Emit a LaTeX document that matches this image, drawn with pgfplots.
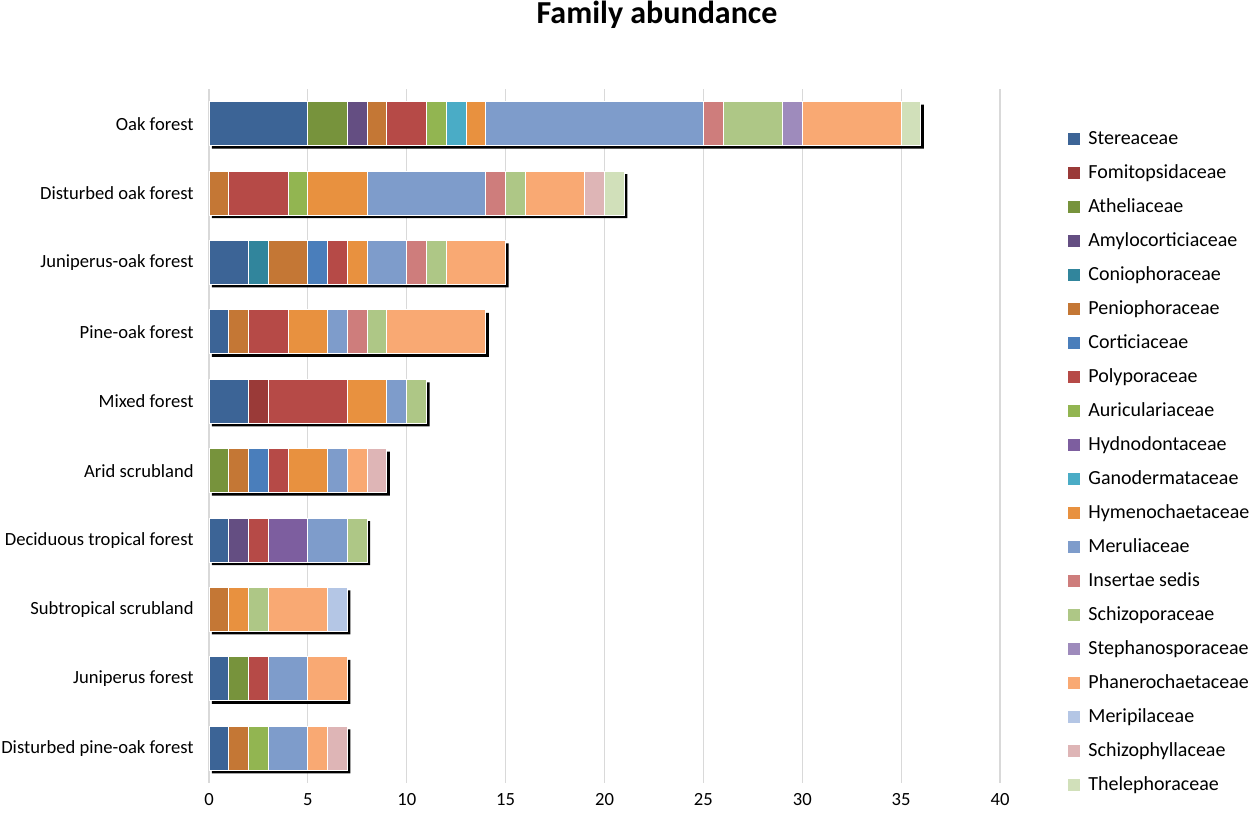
\documentclass[border=0pt]{standalone}
\usepackage{fontspec}
\setmainfont{Carlito}
\usepackage{pgfplots}
\usepackage{pgfplotstable}
\pgfplotsset{compat=1.18}

\definecolor{cSter}{HTML}{3C6496}
\definecolor{cFomi}{HTML}{9A3A38}
\definecolor{cAthe}{HTML}{77933C}
\definecolor{cAmyl}{HTML}{644E82}
\definecolor{cConi}{HTML}{31859C}
\definecolor{cPeni}{HTML}{C47735}
\definecolor{cCort}{HTML}{4A7EBB}
\definecolor{cPoly}{HTML}{B64A47}
\definecolor{cAuri}{HTML}{92B551}
\definecolor{cHydn}{HTML}{7D5E9F}
\definecolor{cGano}{HTML}{4AACC6}
\definecolor{cHyme}{HTML}{E8913F}
\definecolor{cMeru}{HTML}{7E9CCB}
\definecolor{cInse}{HTML}{CE7D7C}
\definecolor{cSchi}{HTML}{AEC786}
\definecolor{cStep}{HTML}{9E8BBC}
\definecolor{cPhan}{HTML}{F9A973}
\definecolor{cMeri}{HTML}{B4C6E5}
\definecolor{cSchp}{HTML}{DEB5B6}
\definecolor{cThel}{HTML}{D1E0BA}
\definecolor{gridgray}{HTML}{D9D9D9}

% counts per forest type (y=9 is Oak forest at the top)
\pgfplotstableread{
y Ster Fomi Athe Amyl Coni Peni Cort Poly Auri Hydn Gano Hyme Meru Inse Schi Step Phan Meri Schp Thel Total
9 5 0 2 1 0 1 0 2 1 0 1 1 11 1 3 1 5 0 0 1 36
8 0 0 0 0 0 1 0 3 1 0 0 3 6 1 1 0 3 0 1 1 21
7 2 0 0 0 1 2 1 1 0 0 0 1 2 1 1 0 3 0 0 0 15
6 1 0 0 0 0 1 0 2 0 0 0 2 1 1 1 0 5 0 0 0 14
5 2 1 0 0 0 0 0 4 0 0 0 2 1 0 1 0 0 0 0 0 11
4 0 0 1 0 0 1 1 1 0 0 0 2 1 0 0 0 1 0 1 0 9
3 1 0 0 1 0 0 0 1 0 2 0 0 2 0 1 0 0 0 0 0 8
2 0 0 0 0 0 1 0 0 0 0 0 1 0 0 1 0 3 1 0 0 7
1 1 0 1 0 0 0 0 1 0 0 0 0 2 0 0 0 2 0 0 0 7
0 1 0 0 0 0 1 0 0 1 0 0 0 2 0 0 0 1 0 1 0 7
}\abund

\pgfplotsset{
  base/.style={
    scale only axis, width=395.5pt, height=347pt,
    xmin=0, xmax=40, ymin=-0.5, ymax=9.5,
  },
}

\begin{document}
\begin{tikzpicture}
\path[use as bounding box] (-104.5pt,-17pt) rectangle (521pt,391.5pt);

% background axis: grid, labels, bar shadows
\begin{axis}[base,
    axis line style={draw=none},
    major tick length=0pt,
    xtick={0,5,...,40},
    ytick={0,...,9},
    yticklabels={Disturbed pine-oak forest, Juniperus forest, Subtropical scrubland,
      Deciduous tropical forest, Arid scrubland, Mixed forest, Pine-oak forest,
      Juniperus-oak forest, Disturbed oak forest, Oak forest},
    xmajorgrids, major grid style={gridgray, line width=0.6pt},
    tick label style={font=\fontsize{9.3}{11}\selectfont, inner sep=0pt},
    xticklabel style={yshift=-5pt},
    yticklabel style={xshift=-7.5pt},
    /pgf/number format/assume math mode=true,
]
\addplot[xbar, bar width=22pt, fill=black, draw=none, xshift=1.5pt, yshift=-1.5pt]
  table[x=Total, y=y] {\abund};
\end{axis}

% stacked bars and legend
\begin{axis}[base,
    hide axis,
    xbar stacked, bar width=22pt,
    every axis plot/.append style={draw=white, line width=0.5pt},
    legend cell align=left,
    legend image code/.code={\path[#1, draw=none] (0pt,-3pt) rectangle (6pt,3pt);},
    legend style={at={(1.0784,0.9481)}, anchor=north west, draw=none, fill=none,
      font=\fontsize{10}{12}\selectfont, row sep=7pt,
      nodes={inner sep=0.5pt, text height=7pt, text depth=2pt},
      /tikz/every odd column/.append style={column sep=3.5pt}},
]
\addplot[fill=cSter] table[x=Ster, y=y] {\abund}; \addlegendentry{Stereaceae}
\addplot[fill=cFomi] table[x=Fomi, y=y] {\abund}; \addlegendentry{Fomitopsidaceae}
\addplot[fill=cAthe] table[x=Athe, y=y] {\abund}; \addlegendentry{Atheliaceae}
\addplot[fill=cAmyl] table[x=Amyl, y=y] {\abund}; \addlegendentry{Amylocorticiaceae}
\addplot[fill=cConi] table[x=Coni, y=y] {\abund}; \addlegendentry{Coniophoraceae}
\addplot[fill=cPeni] table[x=Peni, y=y] {\abund}; \addlegendentry{Peniophoraceae}
\addplot[fill=cCort] table[x=Cort, y=y] {\abund}; \addlegendentry{Corticiaceae}
\addplot[fill=cPoly] table[x=Poly, y=y] {\abund}; \addlegendentry{Polyporaceae}
\addplot[fill=cAuri] table[x=Auri, y=y] {\abund}; \addlegendentry{Auriculariaceae}
\addplot[fill=cHydn] table[x=Hydn, y=y] {\abund}; \addlegendentry{Hydnodontaceae}
\addplot[fill=cGano] table[x=Gano, y=y] {\abund}; \addlegendentry{Ganodermataceae}
\addplot[fill=cHyme] table[x=Hyme, y=y] {\abund}; \addlegendentry{Hymenochaetaceae}
\addplot[fill=cMeru] table[x=Meru, y=y] {\abund}; \addlegendentry{Meruliaceae}
\addplot[fill=cInse] table[x=Inse, y=y] {\abund}; \addlegendentry{Insertae sedis}
\addplot[fill=cSchi] table[x=Schi, y=y] {\abund}; \addlegendentry{Schizoporaceae}
\addplot[fill=cStep] table[x=Step, y=y] {\abund}; \addlegendentry{Stephanosporaceae}
\addplot[fill=cPhan] table[x=Phan, y=y] {\abund}; \addlegendentry{Phanerochaetaceae}
\addplot[fill=cMeri] table[x=Meri, y=y] {\abund}; \addlegendentry{Meripilaceae}
\addplot[fill=cSchp] table[x=Schp, y=y] {\abund}; \addlegendentry{Schizophyllaceae}
\addplot[fill=cThel] table[x=Thel, y=y] {\abund}; \addlegendentry{Thelephoraceae}
\end{axis}

\node[font=\fontsize{16}{19}\selectfont\bfseries] at (224pt,384pt) {Family abundance};
\end{tikzpicture}
\end{document}
